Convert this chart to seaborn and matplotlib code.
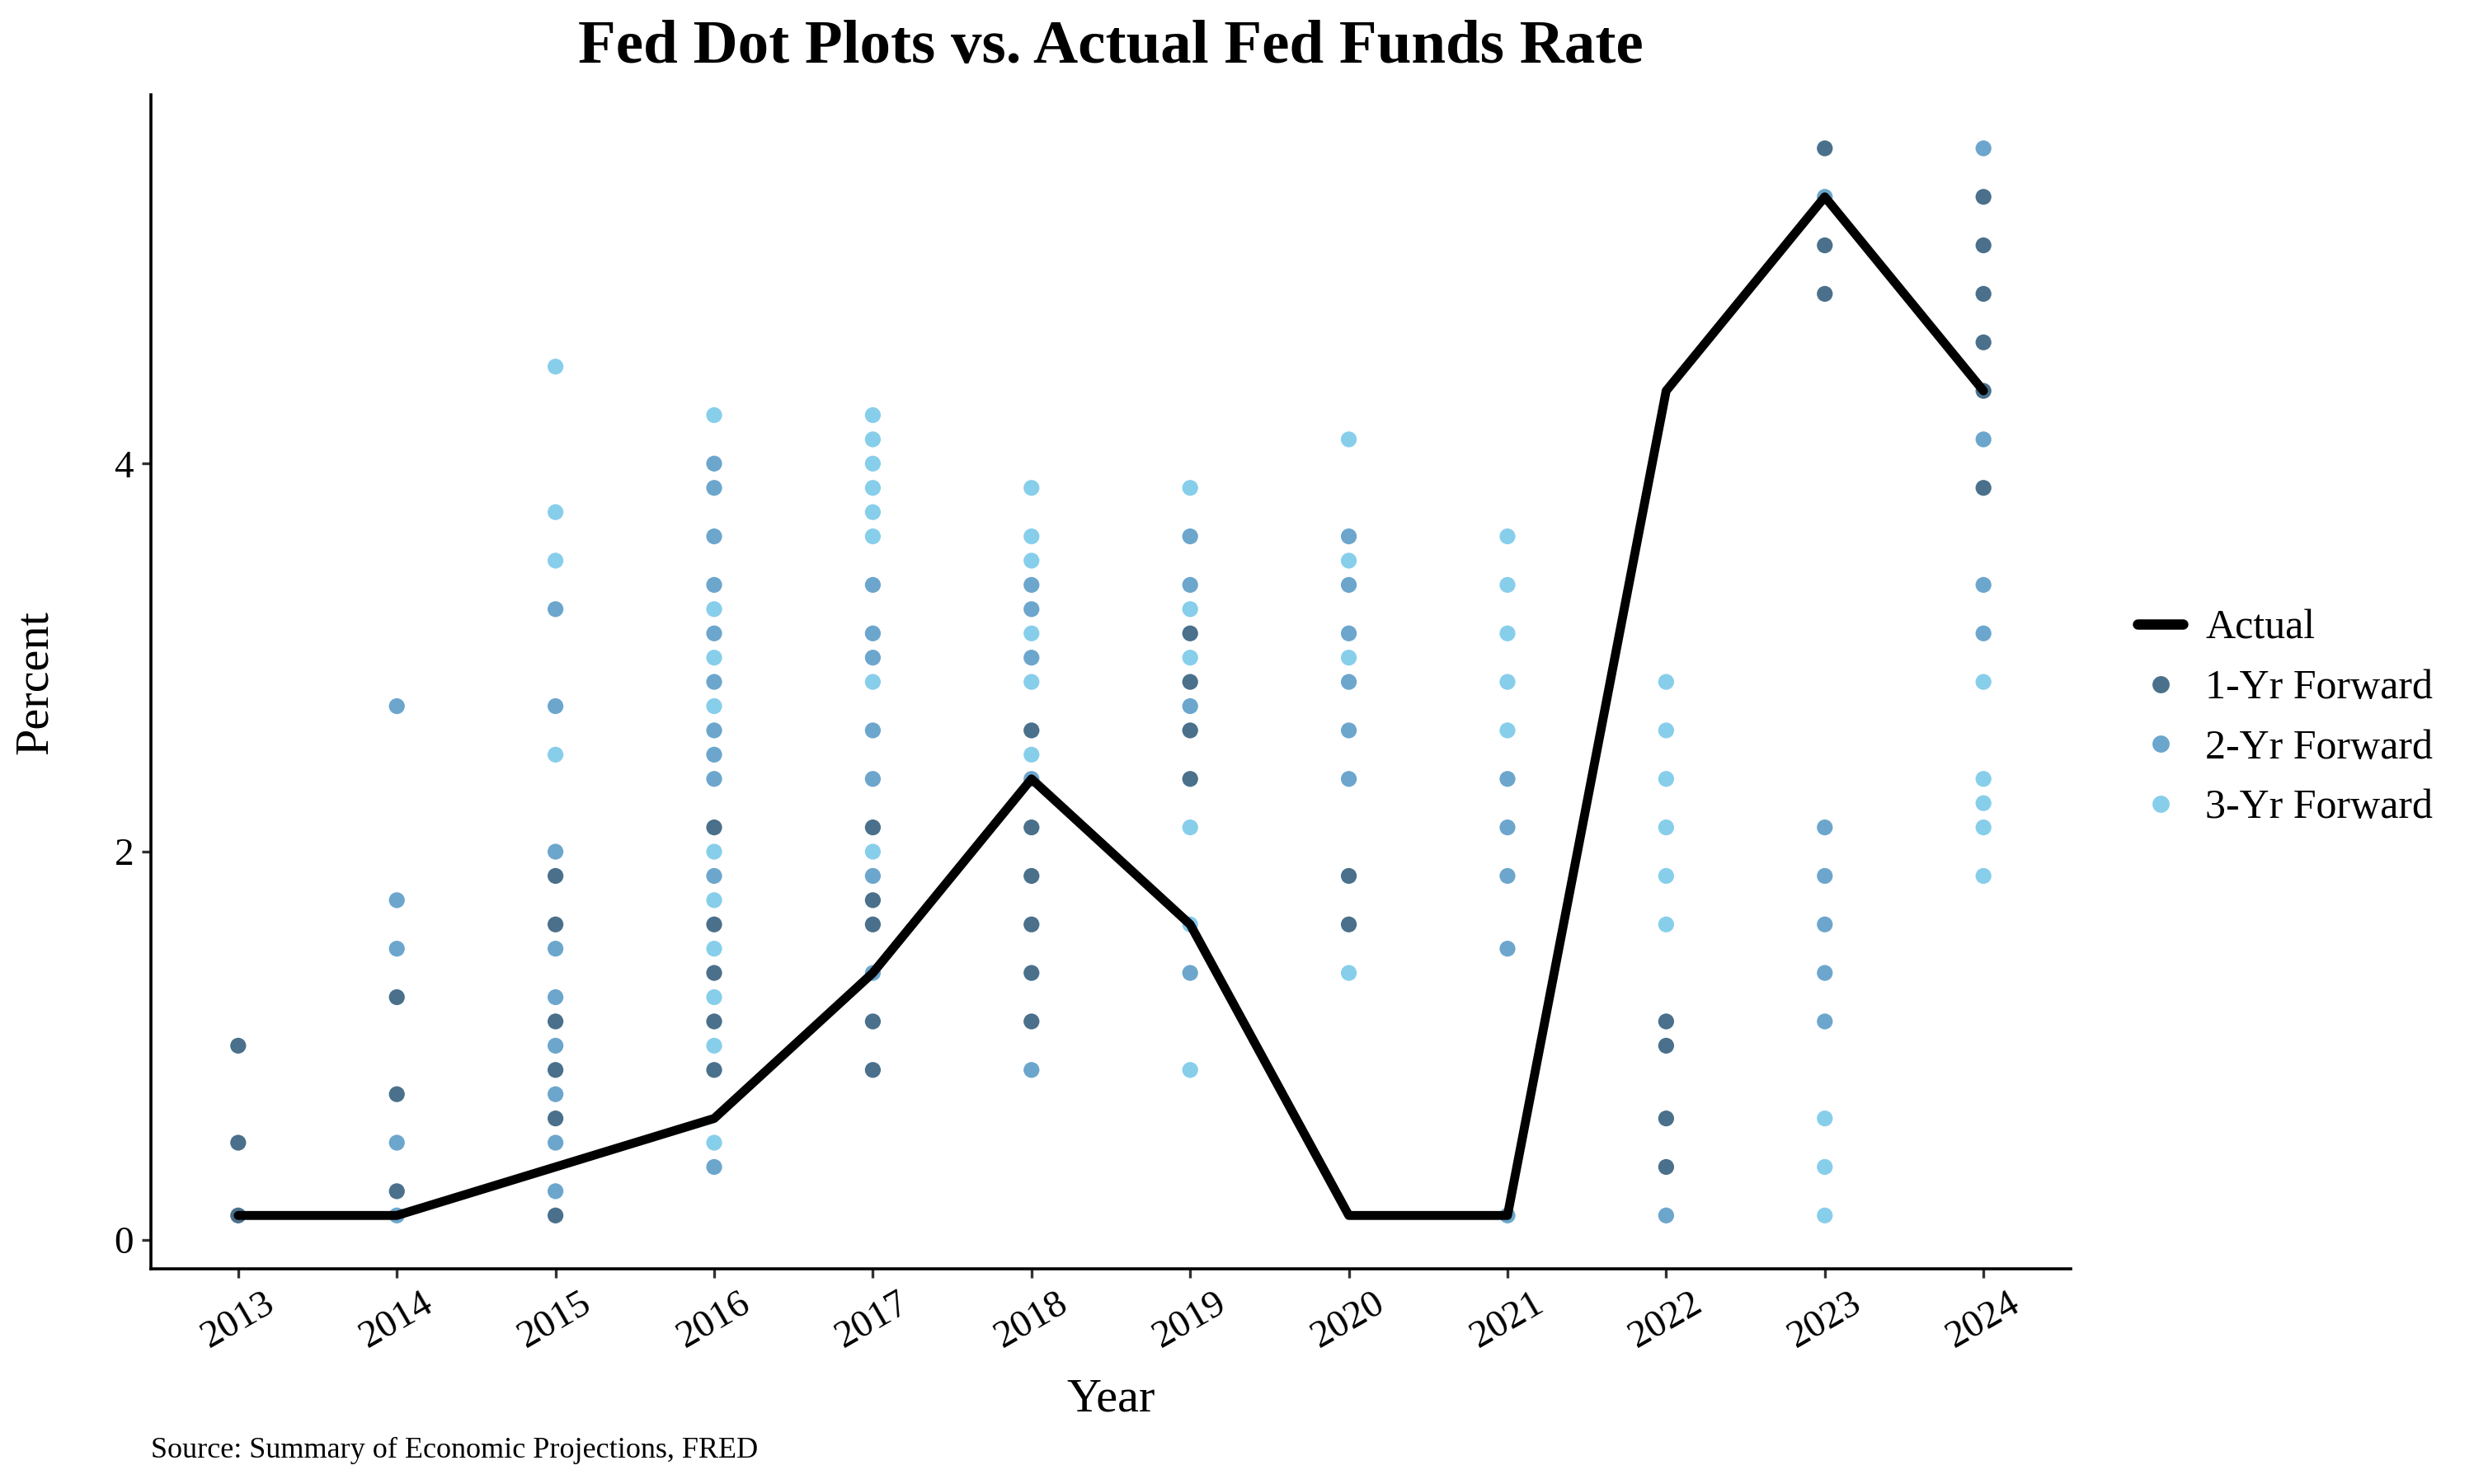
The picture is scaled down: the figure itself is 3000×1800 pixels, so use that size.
import matplotlib
matplotlib.use("Agg")
import matplotlib.pyplot as plt
import seaborn as sns
import pandas as pd
from matplotlib.lines import Line2D

# actual effective fed funds rate (year-end midpoint)
years = list(range(2013, 2025))
actual = [0.125, 0.125, 0.375, 0.625, 1.375, 2.375, 1.625, 0.125, 0.125, 4.375, 5.375, 4.375]

# dot plot projections for each target year, by forecast horizon
one_yr = {
    2013: [1.0, 0.5, 0.125],
    2014: [1.25, 0.75, 0.25],
    2015: [1.875, 1.625, 1.125, 0.875, 0.625, 0.125],
    2016: [2.125, 1.625, 1.375, 1.125, 0.875],
    2017: [2.125, 1.75, 1.625, 1.125, 0.875],
    2018: [2.625, 2.125, 1.875, 1.625, 1.375, 1.125],
    2019: [3.125, 2.875, 2.625, 2.375],
    2020: [1.875, 1.625],
    2022: [1.125, 1.0, 0.625, 0.375],
    2023: [5.625, 5.125, 4.875],
    2024: [5.375, 5.125, 4.875, 4.625, 4.375, 3.875],
}
two_yr = {
    2014: [2.75, 1.75, 1.5, 0.5, 0.125],
    2015: [3.25, 2.75, 2.0, 1.5, 1.25, 1.0, 0.75, 0.5, 0.25],
    2016: [4.0, 3.875, 3.625, 3.375, 3.125, 2.875, 2.625, 2.5, 2.375, 1.875, 0.375],
    2017: [3.375, 3.125, 3.0, 2.625, 2.375, 1.875, 1.375],
    2018: [3.375, 3.25, 3.0, 2.375, 0.875],
    2019: [3.625, 3.375, 2.75, 1.375],
    2020: [3.625, 3.375, 3.125, 2.875, 2.625, 2.375],
    2021: [2.375, 2.125, 1.875, 1.5, 0.125],
    2022: [0.125],
    2023: [5.375, 2.125, 1.875, 1.625, 1.375, 1.125],
    2024: [5.625, 4.125, 3.375, 3.125],
}
three_yr = {
    2015: [4.5, 3.75, 3.5, 2.5],
    2016: [4.25, 3.25, 3.0, 2.75, 2.0, 1.75, 1.5, 1.25, 1.0, 0.5],
    2017: [4.25, 4.125, 4.0, 3.875, 3.75, 3.625, 2.875, 2.0],
    2018: [3.875, 3.625, 3.5, 3.125, 2.875, 2.5],
    2019: [3.875, 3.25, 3.0, 2.125, 1.625, 0.875],
    2020: [4.125, 3.5, 3.0, 1.375],
    2021: [3.625, 3.375, 3.125, 2.875, 2.625],
    2022: [2.875, 2.625, 2.375, 2.125, 1.875, 1.625],
    2023: [0.625, 0.375, 0.125],
    2024: [2.875, 2.375, 2.25, 2.125, 1.875],
}

horizons = ["1-Yr Forward", "2-Yr Forward", "3-Yr Forward"]
colors = ["#4A708B", "#6CA6CD", "#87CEEB"]

rows = []
for name, d in zip(horizons, [one_yr, two_yr, three_yr]):
    for yr, vals in d.items():
        for v in vals:
            rows.append({"year": yr, "rate": v, "horizon": name})
dots = pd.DataFrame(rows)
act = pd.DataFrame({"year": years, "rate": actual})

sns.set_theme(style="ticks")
plt.rcParams["font.family"] = ["Liberation Serif", "DejaVu Serif"]
plt.rcParams["text.color"] = "black"
plt.rcParams["axes.labelcolor"] = "black"

fig, ax = plt.subplots(figsize=(15, 9), dpi=200)
fig.subplots_adjust(left=0.061, right=0.837, top=0.936, bottom=0.145)

sns.scatterplot(data=dots, x="year", y="rate", hue="horizon", hue_order=horizons,
                palette=colors, s=48, linewidth=0, ax=ax, legend=False, zorder=2)
sns.lineplot(data=act, x="year", y="rate", color="black", linewidth=3.9, ax=ax, zorder=3)

ax.set_xlim(2012.45, 2024.55)
ax.set_ylim(-0.15, 5.9)
ax.set_xticks(years)
ax.set_xticklabels([str(y) for y in years], rotation=30, ha="center")
ax.set_yticks([0, 2, 4])
ax.tick_params(axis="both", labelsize=17, colors="#333333", labelcolor="black", length=4, width=1.2)
for s in ["top", "right"]:
    ax.spines[s].set_visible(False)
for s in ["left", "bottom"]:
    ax.spines[s].set_color("black")
    ax.spines[s].set_linewidth(1.3)

ax.set_xlabel("Year", fontsize=21, labelpad=10)
ax.set_ylabel("Percent", fontsize=21, labelpad=25)
ax.set_title("Fed Dot Plots vs. Actual Fed Funds Rate", fontsize=27, fontweight="bold", pad=14)

handles = [Line2D([0], [0], color="black", linewidth=4.5, label="Actual")]
for name, c in zip(horizons, colors):
    handles.append(Line2D([0], [0], marker="o", linestyle="none", markersize=7.5,
                          markerfacecolor=c, markeredgewidth=0, label=name))
fig.legend(handles=handles, loc="center left", bbox_to_anchor=(0.849, 0.516),
           frameon=False, fontsize=18, handlelength=1.1, handletextpad=0.55,
           labelspacing=0.52)

fig.text(0.061, 0.018, "Source: Summary of Economic Projections, FRED", fontsize=13)

fig.savefig("out.png", dpi=200)
